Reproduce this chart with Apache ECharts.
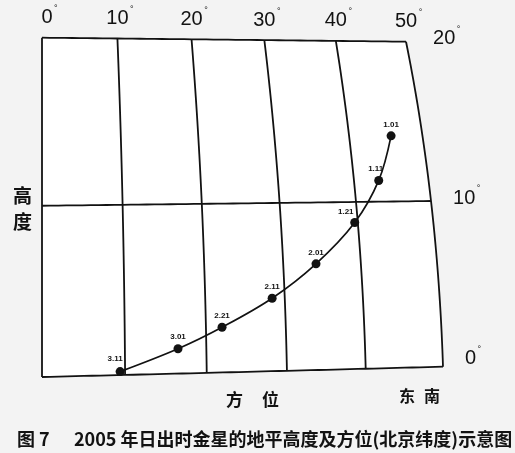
<!DOCTYPE html>
<html><head><meta charset="utf-8">
<script src="https://cdn.jsdelivr.net/npm/echarts@6/dist/echarts.min.js"></script>
<style>html,body{margin:0;padding:0;background:#f3f3f3}#c{width:515px;height:453px}</style>
</head><body><div id="c"></div>
<script>
// ---- data ----
const dates = ['3.11', '3.01', '2.21', '2.11', '2.01', '1.21', '1.11', '1.01'];
const azimuth = [9.4, 16.5, 22.0, 28.4, 34.2, 39.6, 43.3, 45.7];      // degrees from East toward South
const altitude = [0.2, 1.45, 2.65, 4.3, 6.3, 8.75, 11.3, 14.05];       // degrees
const azimuthTicks = [0, 10, 20, 30, 40, 50];
const azimuthTickLabels = ['0', '10', '20', '30', '40', '50'];
const altitudeTicks = [0, 10, 20];
const altitudeTickLabels = ['0', '10', '20'];
const AZ_MAX = 50, ALT_MAX = 20;

// ---- sky-chart projection: (azimuth, altitude) -> plane units of the hidden axes ----
// azimuth lines converge upward and bend slightly, as in the printed sky chart
function project(az, alt) {
  const u = az / AZ_MAX, v = alt / ALT_MAX;
  const width = 1 - 0.0274 * v - 0.0648 * v * v;          // relative width of altitude row
  const h = u + 0.045 * u * (1 - u);
  const x = AZ_MAX * width * h;
  const yBottom = 0.0304 * u;                                // bottom edge rises to the right
  const yTop = 1 - 0.0118 * u;                               // top edge falls to the right
  const bulge = (0.0047 + 0.0047 * u) * 4 * v * (1 - v);
  const y = ALT_MAX * (yBottom * (1 - v) + yTop * v + bulge);
  return [x, y];
}

const labelNudge = { '3.11': [-5, -1], '1.21': [-9, 1], '1.11': [-3, 0] };

const INK = '#121212';
const chart = echarts.init(document.getElementById('c'));

function curveAlongAlt(api, az) {
  const pts = [];
  for (let a = 0; a <= ALT_MAX + 1e-9; a += 0.5) pts.push(api.coord(project(az, a)));
  return pts;
}
function curveAlongAz(api, alt) {
  const pts = [];
  for (let z = 0; z <= AZ_MAX + 1e-9; z += 1) pts.push(api.coord(project(z, alt)));
  return pts;
}

chart.setOption({
  backgroundColor: '#f3f3f3',
  animation: false,
  grid: { left: 42, right: 72, top: 37.7, bottom: 76 },
  xAxis: { type: 'value', min: 0, max: AZ_MAX, show: false },
  yAxis: { type: 'value', min: 0, max: ALT_MAX, show: false },
  series: [
    { // white chart field
      type: 'custom', coordinateSystem: 'cartesian2d', clip: false, silent: true, z: 0,
      data: [[0, 0]],
      renderItem: function (params, api) {
        const pts = curveAlongAz(api, 0)
          .concat(curveAlongAlt(api, AZ_MAX))
          .concat(curveAlongAz(api, ALT_MAX).reverse())
          .concat(curveAlongAlt(api, 0).reverse());
        return { type: 'polygon', shape: { points: pts }, style: { fill: '#ffffff' } };
      }
    },
    { // azimuth lines + top labels
      type: 'custom', coordinateSystem: 'cartesian2d', clip: false, silent: true, z: 1,
      data: azimuthTicks.map((t, i) => [t, i]),
      renderItem: function (params, api) {
        const az = api.value(0);
        const lbl = azimuthTickLabels[params.dataIndex];
        const top = api.coord(project(az, ALT_MAX));
        const w = lbl.length * 11.1;
        return { type: 'group', children: [
          { type: 'polyline', shape: { points: curveAlongAlt(api, az) },
            style: { stroke: INK, lineWidth: 1.8, fill: null } },
          { type: 'text', x: top[0] + (az === 0 ? 5 : 0), y: top[1] - 20,
            style: { text: lbl, fontFamily: 'Liberation Sans, Arial', fontSize: 20, fill: INK,
                     align: 'center', verticalAlign: 'middle' } },
          { type: 'text', x: top[0] + (az === 0 ? 5 : 0) + w / 2 + 1.5, y: top[1] - 29,
            style: { text: '°', fontFamily: 'Liberation Sans, Arial', fontSize: 9, fill: INK,
                     align: 'left', verticalAlign: 'middle' } }
        ] };
      }
    },
    { // altitude lines + right labels
      type: 'custom', coordinateSystem: 'cartesian2d', clip: false, silent: true, z: 1,
      data: altitudeTicks.map((t, i) => [0, t]),
      renderItem: function (params, api) {
        const alt = api.value(1);
        const lbl = altitudeTickLabels[params.dataIndex];
        const end = api.coord(project(AZ_MAX, alt));
        const w = lbl.length * 11.1;
        const lx = end[0] + (alt === ALT_MAX ? 27 : 22);
        const ly = end[1] - (alt === 0 ? 8 : 3);
        return { type: 'group', children: [
          { type: 'polyline', shape: { points: curveAlongAz(api, alt) },
            style: { stroke: INK, lineWidth: 1.8, fill: null } },
          { type: 'text', x: lx, y: ly,
            style: { text: lbl, fontFamily: 'Liberation Sans, Arial', fontSize: 20, fill: INK,
                     align: 'left', verticalAlign: 'middle' } },
          { type: 'text', x: lx + w + 1.5, y: ly - 9,
            style: { text: '°', fontFamily: 'Liberation Sans, Arial', fontSize: 9, fill: INK,
                     align: 'left', verticalAlign: 'middle' } }
        ] };
      }
    },
    { // Venus at sunrise
      type: 'line', z: 3, smooth: 0.35,
      symbol: 'circle', symbolSize: 9,
      lineStyle: { color: INK, width: 1.7 },
      itemStyle: { color: INK },
      data: dates.map((d, i) => ({
        name: d,
        value: project(azimuth[i], altitude[i]),
        label: { offset: labelNudge[d] || [0, 0] }
      })),
      label: { show: true, position: 'top', distance: 3, formatter: '{b}',
               fontFamily: 'Liberation Sans, Arial', fontSize: 8, fontWeight: 'bold', color: INK }
    }
  ],
  graphic: [
    { type: 'text', left: 13, top: 183,
      style: { text: '高\n度', font: 'bold 19px "Noto Sans CJK SC"', lineHeight: 26, fill: INK } },
    { type: 'text', left: 226, top: 391, style: { text: '方', font: 'bold 17px "Noto Sans CJK SC"', fill: INK } },
    { type: 'text', left: 262, top: 391, style: { text: '位', font: 'bold 17px "Noto Sans CJK SC"', fill: INK } },
    { type: 'text', left: 399, top: 388, style: { text: '东', font: 'bold 16px "Noto Sans CJK SC"', fill: INK } },
    { type: 'text', left: 424, top: 388, style: { text: '南', font: 'bold 16px "Noto Sans CJK SC"', fill: INK } },
    { type: 'text', left: 17, top: 430, style: { text: '图 7', font: 'bold 18px "Noto Sans CJK SC"', fill: INK } },
    { type: 'text', left: 74, top: 430,
      style: { text: '2005 年日出时金星的地平高度及方位(北京纬度)示意图', font: 'bold 18px "Noto Sans CJK SC"', fill: INK } }
  ]
});
</script>
</body></html>
